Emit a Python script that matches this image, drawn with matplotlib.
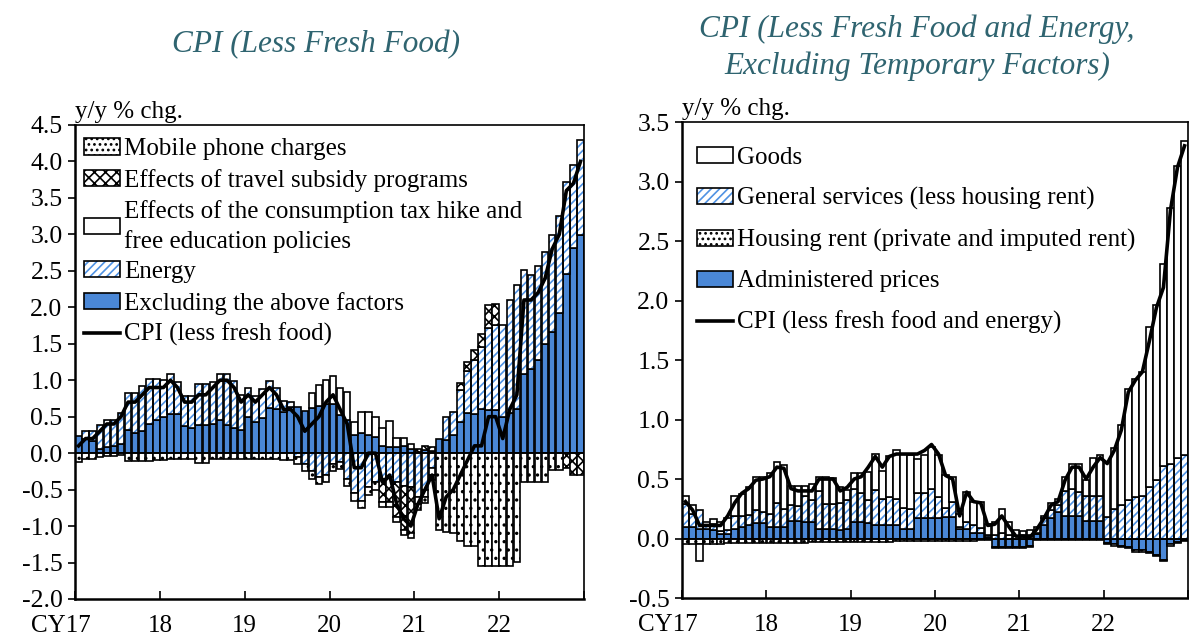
import numpy as np
import matplotlib
matplotlib.use('Agg')
import matplotlib.pyplot as plt
from matplotlib.patches import Patch
from matplotlib.lines import Line2D

plt.rcParams['font.family'] = ['Liberation Serif', 'DejaVu Serif']
plt.rcParams['hatch.linewidth'] = 1.2

# monthly, Jan 2017 .. Dec 2022
year_labels = ['CY17', '18', '19', '20', '21', '22']

# ---- left panel: CPI (less fresh food), contributions in % points
cpi_less_fresh = [0.1, 0.2, 0.2, 0.3, 0.4, 0.4, 0.5, 0.7, 0.7, 0.8, 0.9, 0.9,
                  0.9, 1.0, 0.9, 0.7, 0.7, 0.8, 0.8, 0.9, 1.0, 1.0, 0.9, 0.7,
                  0.8, 0.7, 0.8, 0.9, 0.8, 0.6, 0.6, 0.5, 0.3, 0.4, 0.5, 0.7,
                  0.8, 0.6, 0.4, -0.2, -0.2, 0.0, 0.0, -0.4, -0.3, -0.7, -0.9, -1.0,
                  -0.7, -0.5, -0.3, -0.9, -0.6, -0.5, -0.3, -0.1, 0.1, 0.1, 0.5, 0.5,
                  0.2, 0.6, 0.8, 2.1, 2.1, 2.2, 2.4, 2.8, 3.0, 3.6, 3.7, 4.0]
excl_factors = [0.24, 0.20, 0.17, 0.05, 0.08, 0.10, 0.13, 0.32, 0.28, 0.30, 0.40, 0.45,
                0.50, 0.54, 0.53, 0.37, 0.34, 0.38, 0.38, 0.40, 0.46, 0.39, 0.35, 0.32,
                0.49, 0.43, 0.48, 0.62, 0.60, 0.57, 0.63, 0.63, 0.58, 0.62, 0.64, 0.67,
                0.68, 0.52, 0.45, 0.25, 0.27, 0.25, 0.22, 0.10, 0.09, 0.08, 0.10, 0.06,
                0.02, 0.04, 0.03, 0.19, 0.18, 0.25, 0.43, 0.55, 0.54, 0.61, 0.59, 0.59,
                0.50, 0.55, 0.60, 1.09, 1.15, 1.28, 1.50, 1.66, 1.92, 2.46, 2.81, 2.99]
energy = [0.00, 0.10, 0.13, 0.33, 0.37, 0.35, 0.42, 0.50, 0.55, 0.62, 0.61, 0.57,
          0.50, 0.54, 0.44, 0.41, 0.44, 0.57, 0.57, 0.57, 0.63, 0.70, 0.64, 0.48,
          0.40, 0.35, 0.40, 0.37, 0.29, 0.14, 0.07, -0.05, -0.15, -0.25, -0.33, -0.30,
          -0.15, -0.12, -0.35, -0.55, -0.65, -0.47, -0.40, -0.35, -0.33, -0.40, -0.45, -0.47,
          -0.60, -0.50, -0.20, 0.00, 0.32, 0.32, 0.43, 0.57, 0.74, 0.85, 1.12, 1.17,
          1.26, 1.55, 1.70, 1.42, 1.29, 1.29, 1.26, 1.33, 1.33, 1.26, 1.14, 1.30]
tax_education = [0, 0, 0, 0, 0, 0, 0, 0, 0, 0, 0, 0,
                 0, 0, 0, 0, 0, 0, 0, 0, 0, 0, 0, 0,
                 0, 0, 0, 0, 0, 0, 0, 0, 0, 0.21, 0.30, 0.33,
                 0.38, 0.37, 0.39, 0.18, 0.30, 0.32, 0.27, 0.24, 0.35, 0.13, 0.11, 0.07,
                 -0.10, -0.10, -0.10, 0, 0, 0, 0, 0, 0, 0, 0, 0,
                 0, 0, 0, 0, 0, 0, 0, 0, 0, 0, 0, 0]
travel = [0, 0, 0, 0, 0, 0, 0, 0, 0, 0, 0, 0,
          0, 0, 0, 0, 0, 0, 0, 0, 0, 0, 0, 0,
          0, 0, 0, 0, 0, 0, 0, 0, 0, 0, 0, 0,
          0, 0, 0, 0, 0, 0, 0, -0.32, -0.34, -0.47, -0.60, -0.63,
          0.04, 0.06, 0.05, 0, 0, 0, 0.10, 0.13, 0.13, 0.18, 0.32, 0.29,
          0, 0, 0, 0, 0, 0, 0, 0, 0, -0.21, -0.30, -0.30]
mobile = [-0.12, -0.08, -0.08, -0.05, -0.04, -0.04, -0.03, -0.11, -0.11, -0.11, -0.11, -0.10,
          -0.10, -0.08, -0.08, -0.08, -0.08, -0.14, -0.14, -0.08, -0.08, -0.08, -0.08, -0.08,
          -0.08, -0.08, -0.08, -0.08, -0.08, -0.10, -0.10, -0.10, -0.10, -0.10, -0.10, -0.10,
          -0.10, -0.10, -0.10, -0.10, -0.10, -0.10, -0.10, -0.07, -0.07, -0.07, -0.07, -0.07,
          -0.08, -0.09, -0.07, -1.05, -1.08, -1.10, -1.20, -1.28, -1.28, -1.55, -1.55, -1.55,
          -1.55, -1.55, -1.49, -0.39, -0.39, -0.39, -0.39, -0.23, -0.23, 0, 0, 0]

# ---- right panel: CPI (less fresh food and energy, excl. temporary factors)
cpi_core = [0.31, 0.24, 0.11, 0.11, 0.11, 0.11, 0.19, 0.30, 0.38, 0.42, 0.49, 0.50,
            0.52, 0.60, 0.59, 0.42, 0.40, 0.40, 0.40, 0.50, 0.50, 0.50, 0.40, 0.43,
            0.50, 0.52, 0.60, 0.69, 0.60, 0.69, 0.71, 0.71, 0.71, 0.71, 0.74, 0.79,
            0.71, 0.53, 0.50, 0.19, 0.39, 0.31, 0.30, 0.11, 0.12, 0.19, 0.10, 0.02,
            0.02, 0.01, 0.08, 0.17, 0.28, 0.31, 0.49, 0.60, 0.60, 0.50, 0.60, 0.68,
            0.63, 0.74, 0.91, 1.23, 1.33, 1.40, 1.66, 1.94, 2.11, 2.76, 3.12, 3.30]
administered = [0.10, 0.10, 0.08, 0.08, 0.07, 0.04, 0.04, 0.08, 0.10, 0.11, 0.13, 0.13,
                0.10, 0.10, 0.10, 0.15, 0.15, 0.14, 0.14, 0.08, 0.08, 0.08, 0.07, 0.08,
                0.14, 0.14, 0.13, 0.11, 0.11, 0.11, 0.11, 0.08, 0.08, 0.17, 0.17, 0.17,
                0.17, 0.18, 0.18, 0.08, 0.08, 0.05, 0.05, 0.01, -0.07, -0.07, -0.07, -0.07,
                -0.07, -0.06, 0.04, 0.11, 0.17, 0.22, 0.19, 0.19, 0.19, 0.15, 0.15, 0.15,
                -0.04, -0.05, -0.06, -0.07, -0.10, -0.10, -0.11, -0.14, -0.18, -0.05, -0.03, -0.01]
housing_rent = [-0.05, -0.05, -0.05, -0.05, -0.05, -0.05, -0.04, -0.04, -0.04, -0.04, -0.04, -0.04,
                -0.04, -0.04, -0.04, -0.035, -0.035, -0.035, -0.03, -0.03, -0.03, -0.03, -0.03, -0.03,
                -0.025, -0.025, -0.025, -0.025, -0.025, -0.025, -0.02, -0.02, -0.02, -0.02, -0.02, -0.02,
                -0.02, -0.02, -0.02, -0.02, -0.02, -0.02, -0.01, -0.01, -0.01, -0.01, -0.01, -0.01,
                -0.01, -0.01, -0.01, -0.01, -0.01, -0.01, -0.01, -0.01, -0.01, -0.01, -0.01, -0.01,
                -0.01, -0.01, -0.01, -0.01, -0.01, -0.01, -0.01, -0.01, -0.01, -0.01, -0.01, -0.01]
general_services = [0.19, 0.11, 0.16, 0.03, 0.05, 0.02, 0.03, 0.11, 0.09, 0.09, 0.11, 0.09,
                    0.11, 0.20, 0.15, 0.13, 0.12, 0.22, 0.18, 0.32, 0.21, 0.21, 0.23, 0.24,
                    0.28, 0.24, 0.19, 0.30, 0.22, 0.24, 0.22, 0.18, 0.17, 0.21, 0.21, 0.25,
                    0.18, 0.08, 0.13, 0.02, 0.06, 0.06, 0.04, 0.02, 0.03, 0.05, 0.03, 0.02,
                    0.03, 0.03, 0.01, 0.06, 0.07, 0.06, 0.21, 0.23, 0.20, 0.21, 0.21, 0.21,
                    0.18, 0.25, 0.28, 0.32, 0.35, 0.36, 0.43, 0.49, 0.61, 0.63, 0.68, 0.70]
goods = [0.07, 0.07, -0.14, 0.03, 0.04, 0.08, 0.10, 0.17, 0.18, 0.23, 0.28, 0.30,
         0.34, 0.34, 0.37, 0.16, 0.17, 0.08, 0.14, 0.12, 0.23, 0.22, 0.13, 0.09,
         0.13, 0.17, 0.24, 0.30, 0.24, 0.34, 0.41, 0.45, 0.45, 0.29, 0.32, 0.35,
         0.35, 0.27, 0.21, 0.11, 0.25, 0.20, 0.22, 0.09, 0.11, 0.20, 0.11, 0.05,
         0.03, 0.04, 0.05, 0.02, 0.06, 0.05, 0.12, 0.21, 0.24, 0.13, 0.32, 0.34,
         0.46, 0.51, 0.67, 0.94, 0.99, 1.04, 1.35, 1.47, 1.70, 2.15, 2.45, 2.64]

BLUE = '#4a87d6'
STRIPE = '#4f92e3'
TITLE_C = '#2f6470'
LW = 1.2
W = 0.92

n = len(cpi_less_fresh)
x = np.arange(n) + 0.5


def draw_part(ax, vals, bottom, style):
    if style == 'blue':
        ax.bar(x, vals, W, bottom=bottom, color=BLUE, edgecolor='black', lw=LW)
    elif style == 'stripe':
        ax.bar(x, vals, W, bottom=bottom, color='white', edgecolor=STRIPE, hatch='////', lw=0)
        ax.bar(x, vals, W, bottom=bottom, fill=False, edgecolor='black', lw=LW)
    elif style == 'white':
        ax.bar(x, vals, W, bottom=bottom, color='white', edgecolor='black', lw=LW)
    elif style == 'cross':
        ax.bar(x, vals, W, bottom=bottom, color='white', edgecolor='black', hatch='xxx', lw=LW)
    elif style == 'dots':
        ax.bar(x, vals, W, bottom=bottom, color='white', edgecolor='black', hatch='..', lw=LW)


def stacked(ax, parts):
    pos = np.zeros(n)
    neg = np.zeros(n)
    for vals, style in parts:
        v = np.asarray(vals, dtype=float)
        bottom = np.where(v >= 0, pos, neg)
        v2 = np.where(v != 0, v, np.nan)
        draw_part(ax, v2, bottom, style)
        pos += np.clip(v, 0, None)
        neg += np.clip(v, None, 0)


def handle(style):
    if style == 'blue':
        return Patch(facecolor=BLUE, edgecolor='black', lw=LW)
    if style == 'stripe':
        return (Patch(facecolor='white', edgecolor=STRIPE, hatch='////', lw=0),
                Patch(fill=False, edgecolor='black', lw=LW))
    if style == 'white':
        return Patch(facecolor='white', edgecolor='black', lw=LW)
    if style == 'cross':
        return Patch(facecolor='white', edgecolor='black', hatch='xxx', lw=LW)
    return Patch(facecolor='white', edgecolor='black', hatch='...', lw=LW)


def style_axis(ax, ymin, ymax):
    ax.set_xlim(0, n)
    ax.set_ylim(ymin, ymax)
    ticks = np.arange(ymin, ymax + 0.01, 0.5)
    ax.set_yticks(ticks)
    ax.set_yticklabels(['%.1f' % t for t in ticks])
    ax.set_xticks(np.arange(0, n + 1, 12))
    ax.set_xticklabels([])
    ax.tick_params(axis='x', direction='in', length=6, width=1.2)
    ax.tick_params(axis='y', direction='out', length=5, width=1.2, labelsize=18.5, pad=4)
    for s in ax.spines.values():
        s.set_linewidth(1.2)
    ax.spines['left'].set_linewidth(1.8)
    ax.spines['bottom'].set_linewidth(1.8)
    ax.axhline(0, color='black', lw=1.2, zorder=3)
    for k, lab in enumerate(year_labels):
        xpos = -2.0 if k == 0 else k * 12
        ax.text(xpos, -0.033, lab, transform=ax.get_xaxis_transform(),
                ha='center', va='top', fontsize=18)
    ax.text(0, 1.005, 'y/y % chg.', transform=ax.transAxes, ha='left', va='bottom', fontsize=18)


fig = plt.figure(figsize=(11.89, 6.42), dpi=100)
ax1 = fig.add_axes([0.0631, 0.0670, 0.4281, 0.7383])
ax2 = fig.add_axes([0.5736, 0.0685, 0.4256, 0.7414])

left_parts = [(excl_factors, 'blue'), (energy, 'stripe'), (tax_education, 'white'),
              (travel, 'cross'), (mobile, 'dots')]
stacked(ax1, left_parts)
ax1.plot(x, cpi_less_fresh, color='black', lw=2.6, zorder=4)
style_axis(ax1, -2.0, 4.5)

h1 = [handle('dots'), handle('cross'), handle('white'), handle('stripe'), handle('blue'),
      Line2D([], [], color='black', lw=2.6)]
l1 = ['Mobile phone charges', 'Effects of travel subsidy programs',
      'Effects of the consumption tax hike and\nfree education policies',
      'Energy', 'Excluding the above factors', 'CPI (less fresh food)']
leg1 = ax1.legend(h1, l1, loc='upper left', bbox_to_anchor=(0.018, 0.972), frameon=False,
                  fontsize=18, handlelength=1.45, handleheight=0.62, handletextpad=0.15,
                  labelspacing=0.34, borderpad=0, borderaxespad=0)
leg1.get_texts()[2].set_linespacing(1.35)

right_parts = [(administered, 'blue'), (housing_rent, 'dots'), (general_services, 'stripe'),
               (goods, 'white')]
stacked(ax2, right_parts)
ax2.plot(x, cpi_core, color='black', lw=2.6, zorder=4)
style_axis(ax2, -0.5, 3.5)

h2 = [handle('white'), handle('stripe'), handle('dots'), handle('blue'),
      Line2D([], [], color='black', lw=2.6)]
l2 = ['Goods', 'General services (less housing rent)', 'Housing rent (private and imputed rent)',
      'Administered prices', 'CPI (less fresh food and energy)']
ax2.legend(h2, l2, loc='upper left', bbox_to_anchor=(0.03, 0.948), frameon=False,
           fontsize=18, handlelength=1.45, handleheight=0.62, handletextpad=0.15,
           labelspacing=0.74, borderpad=0, borderaxespad=0)

fig.text(316 / 1189, 1 - 45 / 642, 'CPI (Less Fresh Food)', ha='center', va='center',
         fontsize=22.5, style='italic', color=TITLE_C)
fig.text(917 / 1189, 1 - 29 / 642, 'CPI (Less Fresh Food and Energy,', ha='center', va='center',
         fontsize=22.5, style='italic', color=TITLE_C)
fig.text(917 / 1189, 1 - 66 / 642, 'Excluding Temporary Factors)', ha='center', va='center',
         fontsize=22.5, style='italic', color=TITLE_C)

fig.savefig('out.png', dpi=100)
